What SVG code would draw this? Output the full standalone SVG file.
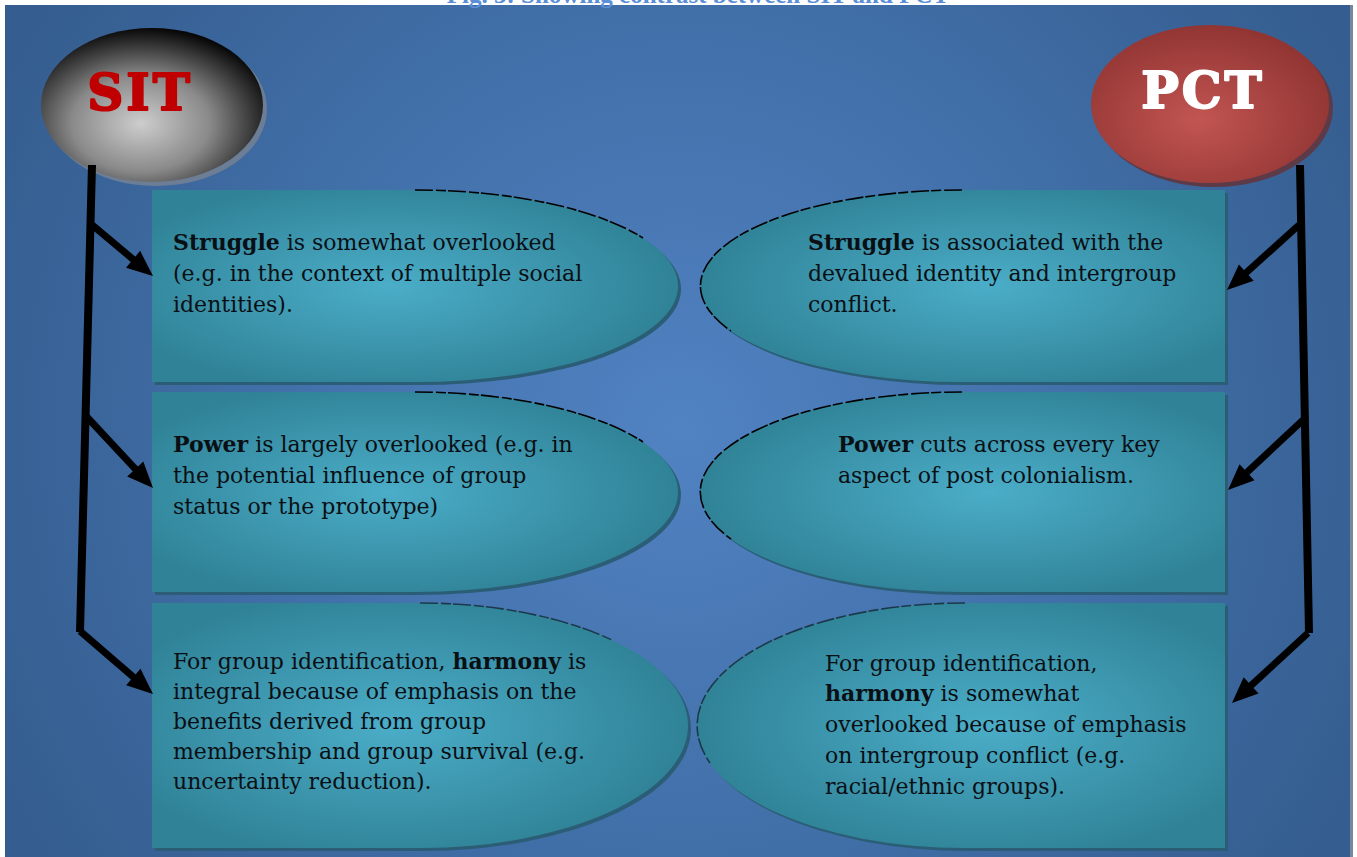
<svg xmlns="http://www.w3.org/2000/svg" width="1357" height="857" viewBox="0 0 1357 857">
  <defs>
    <radialGradient id="bgGrad" gradientUnits="userSpaceOnUse" cx="680" cy="430" r="760">
      <stop offset="0" stop-color="#5182c2"/>
      <stop offset="0.55" stop-color="#416fa8"/>
      <stop offset="1" stop-color="#355d8f"/>
    </radialGradient>
    <radialGradient id="sitGrad" cx="0.45" cy="0.62" r="0.62">
      <stop offset="0" stop-color="#cdcdcd"/>
      <stop offset="0.5" stop-color="#8a8a8a"/>
      <stop offset="1" stop-color="#080808"/>
    </radialGradient>
    <radialGradient id="pctGrad" cx="0.45" cy="0.6" r="0.6">
      <stop offset="0" stop-color="#c25552"/>
      <stop offset="1" stop-color="#913533"/>
    </radialGradient>
    <radialGradient id="boxGradL" cx="0.45" cy="0.5" r="0.55">
      <stop offset="0" stop-color="#4badc8"/>
      <stop offset="1" stop-color="#308397"/>
    </radialGradient>
    <radialGradient id="boxGradR" cx="0.55" cy="0.5" r="0.55">
      <stop offset="0" stop-color="#4badc8"/>
      <stop offset="1" stop-color="#308397"/>
    </radialGradient>
    <marker id="arrow" markerUnits="userSpaceOnUse" markerWidth="30" markerHeight="26" viewBox="0 -13 28 26" refX="14" refY="0" orient="auto">
      <path d="M0,-11 L26,0 L0,11 Z" fill="#000"/>
    </marker>
  </defs>
  <style>
    .box { stroke: none; }
    .shadow { fill: #2b5e76; }
    .edge { fill: none; stroke: #000; stroke-width: 1.6; stroke-dasharray: 18 3 10 2; }
    .body { font-family: "DejaVu Serif", "Liberation Serif", serif; font-size: 22px; fill: #0a0f14; }
    .b { font-weight: bold; }
    .trunk { fill: none; stroke: #000; stroke-width: 8; }
    .branch { fill: none; stroke: #000; stroke-width: 7; marker-end: url(#arrow); }
    .head { font-family: "DejaVu Serif", "Liberation Serif", serif; font-weight: bold; font-size: 50px; letter-spacing: 3px; stroke-width: 2; stroke-linejoin: round; }
  </style>

  <!-- page and backdrop -->
  <rect x="0" y="0" width="1357" height="857" fill="#ffffff"/>
  <rect x="1350" y="5" width="3" height="852" fill="#7a8796"/>
  <rect x="5" y="5" width="1345" height="852" fill="url(#bgGrad)"/>
  <text x="698" y="3" text-anchor="middle" font-family="Liberation Serif, serif" font-weight="bold" font-size="25" fill="#5b8fd8">Fig. 3: Showing contrast between SIT and PCT</text>

  <!-- theory heads -->
  <g id="sit">
    <ellipse cx="156" cy="109" rx="111" ry="77" fill="#6c7d96"/>
    <ellipse cx="152" cy="105" rx="111" ry="77" fill="url(#sitGrad)"/>
    <text x="140" y="110" text-anchor="middle" class="head" fill="#c00000" stroke="#c00000">SIT</text>
  </g>
  <g id="pct">
    <ellipse cx="1214" cy="108" rx="119" ry="79" fill="#5c3a48"/>
    <ellipse cx="1210" cy="104" rx="119" ry="79" fill="url(#pctGrad)"/>
    <text x="1203" y="108" text-anchor="middle" class="head" fill="#ffffff" stroke="#ffffff">PCT</text>
  </g>

  <!-- SIT column -->
  <g id="sit-struggle">
    <path class="shadow" d="M155,193 H418 A263,96 0 0 1 418,385 H155 Z"/>
    <path class="box" fill="url(#boxGradL)" d="M152,190 H415 A263,96 0 0 1 415,382 H152 Z"/>
    <path class="edge" d="M415,190 A263,96 0 0 1 643,238"/>
    <text class="body" x="173" y="250"><tspan class="b">Struggle</tspan> is somewhat overlooked</text>
    <text class="body" x="173" y="281">(e.g. in the context of multiple social</text>
    <text class="body" x="173" y="312">identities).</text>
  </g>
  <g id="sit-power">
    <path class="shadow" d="M155,395 H418 A263,100 0 0 1 418,595 H155 Z"/>
    <path class="box" fill="url(#boxGradL)" d="M152,392 H415 A263,100 0 0 1 415,592 H152 Z"/>
    <path class="edge" d="M415,392 A263,100 0 0 1 643,442"/>
    <text class="body" x="173" y="452"><tspan class="b">Power</tspan> is largely overlooked (e.g. in</text>
    <text class="body" x="173" y="483">the potential influence of group</text>
    <text class="body" x="173" y="514">status or the prototype)</text>
  </g>
  <g id="sit-harmony">
    <path class="shadow" d="M155,606 H423 A268,122.5 0 0 1 423,851 H155 Z"/>
    <path class="box" fill="url(#boxGradL)" d="M152,603 H420 A268,122.5 0 0 1 420,848 H152 Z"/>
    <path class="edge" d="M420,603 A268,122.5 0 0 1 612,640" stroke-dasharray="none" opacity="0.55"/>
    <text class="body" x="173" y="669">For group identification, <tspan class="b">harmony</tspan> is</text>
    <text class="body" x="173" y="699">integral because of emphasis on the</text>
    <text class="body" x="173" y="729">benefits derived from group</text>
    <text class="body" x="173" y="759">membership and group survival (e.g.</text>
    <text class="body" x="173" y="789">uncertainty reduction).</text>
  </g>

  <!-- PCT column -->
  <g id="pct-struggle">
    <path class="shadow" d="M1228,193 H965 A262,96 0 0 0 965,385 H1228 Z"/>
    <path class="box" fill="url(#boxGradR)" d="M1225,190 H962 A262,96 0 0 0 962,382 H1225 Z"/>
    <path class="edge" d="M962,190 A262,96 0 0 0 731,331"/>
    <text class="body" x="808" y="250"><tspan class="b">Struggle</tspan> is associated with the</text>
    <text class="body" x="808" y="281">devalued identity and intergroup</text>
    <text class="body" x="808" y="312">conflict.</text>
  </g>
  <g id="pct-power">
    <path class="shadow" d="M1228,395 H965 A262,100 0 0 0 965,595 H1228 Z"/>
    <path class="box" fill="url(#boxGradR)" d="M1225,392 H962 A262,100 0 0 0 962,592 H1225 Z"/>
    <path class="edge" d="M962,392 A262,100 0 0 0 731,539"/>
    <text class="body" x="838" y="452"><tspan class="b">Power</tspan> cuts across every key</text>
    <text class="body" x="838" y="483">aspect of post colonialism.</text>
  </g>
  <g id="pct-harmony">
    <path class="shadow" d="M1228,606 H968 A268,122.5 0 0 0 968,851 H1228 Z"/>
    <path class="box" fill="url(#boxGradR)" d="M1225,603 H965 A268,122.5 0 0 0 965,848 H1225 Z"/>
    <path class="edge" d="M965,603 A268,122.5 0 0 0 710,763" stroke-dasharray="none" opacity="0.55"/>
    <text class="body" x="825" y="671">For group identification,</text>
    <text class="body" x="825" y="701"><tspan class="b">harmony</tspan> is somewhat</text>
    <text class="body" x="825" y="732">overlooked because of emphasis</text>
    <text class="body" x="825" y="763">on intergroup conflict (e.g.</text>
    <text class="body" x="825" y="794">racial/ethnic groups).</text>
  </g>

  <!-- connectors -->
  <g id="connectors">
    <path class="trunk" d="M92,165 L80,632"/>
    <path class="branch" d="M91,224 L143.8,268.3"/>
    <path class="branch" d="M86,416 L144.8,479.2"/>
    <path class="branch" d="M80,631 L143.9,686.2"/>
    <path class="trunk" d="M1300,165 L1309,633"/>
    <path class="branch" d="M1299,225 L1235.9,282"/>
    <path class="branch" d="M1303,420 L1236.8,481.8"/>
    <path class="branch" d="M1308,633 L1240.8,694.9"/>
  </g>
</svg>
